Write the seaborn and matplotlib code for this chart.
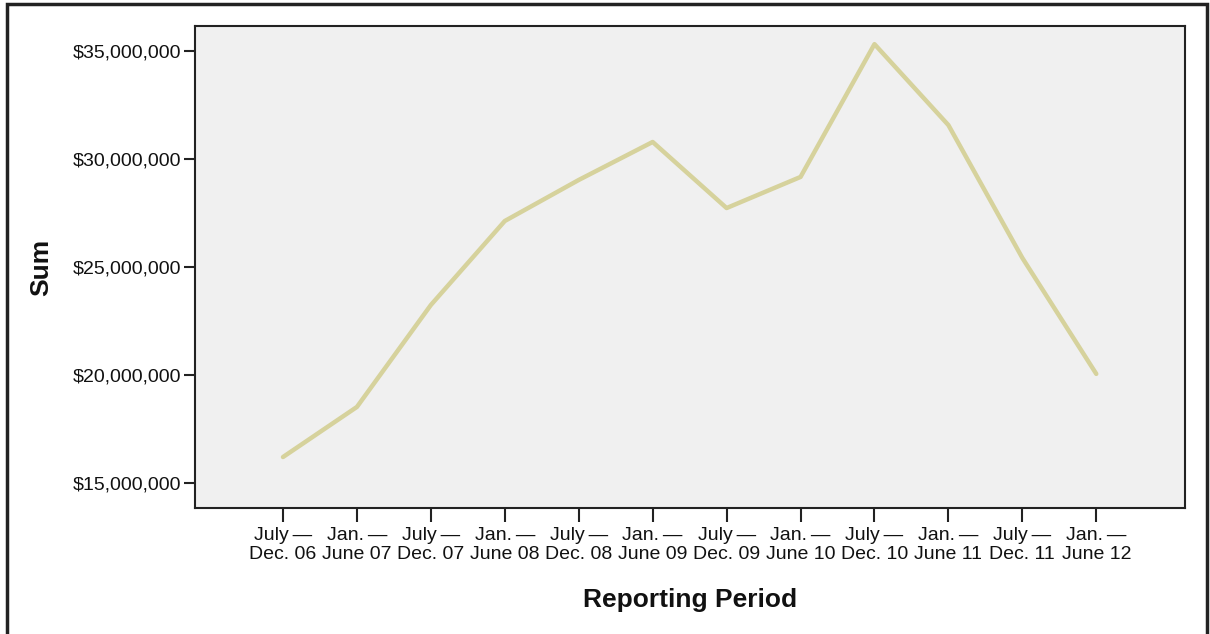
import numpy as np
import pandas as pd
import matplotlib
matplotlib.use("Agg")
import matplotlib.pyplot as plt
import seaborn as sns
from matplotlib.patches import Rectangle
from matplotlib.ticker import FuncFormatter

# reporting periods (half years) and summed amounts
periods = ["July\u2009\u2014\nDec. 06", "Jan.\u2009\u2014\nJune 07", "July\u2009\u2014\nDec. 07",
           "Jan.\u2009\u2014\nJune 08", "July\u2009\u2014\nDec. 08", "Jan.\u2009\u2014\nJune 09",
           "July\u2009\u2014\nDec. 09", "Jan.\u2009\u2014\nJune 10", "July\u2009\u2014\nDec. 10",
           "Jan.\u2009\u2014\nJune 11", "July\u2009\u2014\nDec. 11", "Jan.\u2009\u2014\nJune 12"]
sums = [16.20e6, 18.52e6, 23.24e6, 27.13e6, 29.03e6, 30.79e6,
        27.73e6, 29.17e6, 35.32e6, 31.57e6, 25.42e6, 20.05e6]
ytick_vals = [15e6, 20e6, 25e6, 30e6, 35e6]

df = pd.DataFrame({"pos": np.arange(len(periods)), "sum": sums})

sns.set_style("white")
plt.rcParams['font.family'] = ['Liberation Sans', 'DejaVu Sans']
plt.rcParams['text.color'] = '#111111'
plt.rcParams['xtick.labelcolor'] = '#111111'
plt.rcParams['ytick.labelcolor'] = '#111111'
plt.rcParams['axes.labelcolor'] = '#111111'

fig = plt.figure(figsize=(12.1, 6.34), dpi=100)
ax = fig.add_axes([195/1210, 1 - 508/634, 990/1210, 482/634])
ax.set_facecolor('#f0f0f0')

sns.lineplot(data=df, x="pos", y="sum", ax=ax, color='#d6d29c', linewidth=3.2)

ax.set_xlim(-1.19, 12.2)
ax.set_ylim(13.84e6, 36.16e6)
ax.set_xticks(df["pos"])
ax.set_xticklabels(periods, fontsize=14, linespacing=1.15)
ax.set_yticks(ytick_vals)
ax.yaxis.set_major_formatter(FuncFormatter(lambda v, p: f"${v:,.0f}"))
ax.tick_params(axis='y', labelsize=14, length=8, width=1.5, color='#222222', pad=2)
ax.tick_params(axis='x', length=10, width=1.5, color='#222222', pad=4)
ax.tick_params(bottom=True, left=True)

for s in ax.spines.values():
    s.set_color('#222222')
    s.set_linewidth(1.5)

ax.set_xlabel("Reporting Period", fontsize=19, fontweight='bold', labelpad=18)
ax.set_ylabel("Sum", fontsize=19, fontweight='bold', labelpad=14)

# outer frame
fig.patches.append(Rectangle((7/1210, -0.05), 1200/1210, 1.05 - 4/634, transform=fig.transFigure,
                             fill=False, edgecolor='#222222', linewidth=2.5, figure=fig))

fig.savefig("out.png", dpi=100)
